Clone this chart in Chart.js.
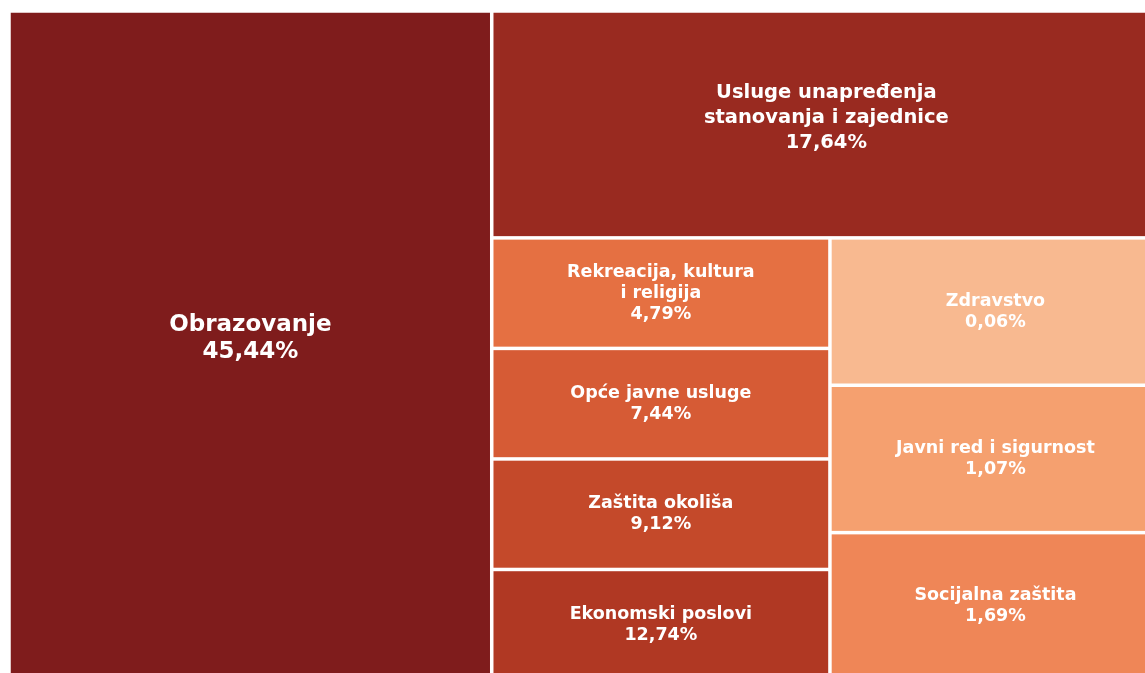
<!DOCTYPE html>
<html>
<head>
<meta charset="utf-8">
<title>Treemap</title>
<script src="https://cdn.jsdelivr.net/npm/chart.js@4/dist/chart.umd.min.js"></script>
<style>
  html, body { margin: 0; padding: 0; background: #fff; overflow: hidden; }
  #wrap { width: 1145px; height: 673px; overflow: hidden; }
</style>
</head>
<body>
<div id="wrap"><canvas id="chart" width="1166" height="686"></canvas></div>
<script>
// Tile names (one array entry per text line)
const labels = [
  ['Obrazovanje'],
  ['Usluge unapređenja', 'stanovanja i zajednice'],
  ['Rekreacija, kultura', 'i religija'],
  ['Opće javne usluge'],
  ['Zaštita okoliša'],
  ['Ekonomski poslovi'],
  ['Zdravstvo'],
  ['Javni red i sigurnost'],
  ['Socijalna zaštita']
];

// Shares shown in the labels (%)
const shares = [45.44, 17.64, 4.79, 7.44, 9.12, 12.74, 0.06, 1.07, 1.69];

// Tile sizes (area weight)
const tileSizes = [41.9, 19.7, 4.85, 4.85, 4.85, 4.85, 6.33, 6.33, 6.33];

const tileColors = [
  '#7f1c1c', '#992a20', '#e57042', '#d65b35', '#c4492a',
  '#b03823', '#f8b990', '#f5a06f', '#ef8657'
];

// Nesting of the tiles: 'h' splits side by side, 'v' stacks top to bottom
const layoutTree = {
  dir: 'h',
  kids: [0, {
    dir: 'v',
    kids: [1, {
      dir: 'h',
      kids: [{ dir: 'v', kids: [2, 3, 4, 5] }, { dir: 'v', kids: [6, 7, 8] }]
    }]
  }]
};

function nodeSize(node) {
  if (typeof node === 'number') return tileSizes[node];
  return node.kids.reduce((s, k) => s + nodeSize(k), 0);
}

// Slice-and-dice layout in data units (0..1 on both axes)
function layout(node, x0, y0, x1, y1, out) {
  if (typeof node === 'number') {
    out[node] = { x0, y0, x1, y1 };
    return out;
  }
  const total = nodeSize(node);
  let pos = node.dir === 'h' ? x0 : y0;
  node.kids.forEach((kid) => {
    const frac = nodeSize(kid) / total;
    if (node.dir === 'h') {
      const next = pos + (x1 - x0) * frac;
      layout(kid, pos, y0, next, y1, out);
      pos = next;
    } else {
      const next = pos + (y1 - y0) * frac;
      layout(kid, x0, pos, x1, next, out);
      pos = next;
    }
  });
  return out;
}

const tiles = layout(layoutTree, 0, 0, 1, 1, []);
const totalSize = nodeSize(layoutTree);

function fmtShare(v) {
  return v.toFixed(2).replace('.', ',') + '%';
}

function labelStyle(i) {
  const frac = tileSizes[i] / totalSize;
  if (frac > 0.3) return { size: 23, line: 27, dy: -6.5 };
  if (frac > 0.15) return { size: 19.5, line: 25, dy: -6.5 };
  return { size: 17.5, line: 21, dy: 0 };
}

const treemapPlugin = {
  id: 'treemapTiles',
  beforeDatasetsDraw(chart) {
    const { ctx, scales: { x, y } } = chart;
    const gap = 1.75;
    ctx.save();
    tiles.forEach((t, i) => {
      const left = x.getPixelForValue(t.x0) + gap;
      const right = x.getPixelForValue(t.x1) - gap;
      const top = y.getPixelForValue(t.y0) + gap;
      const bottom = y.getPixelForValue(t.y1) - gap;
      ctx.fillStyle = tileColors[i];
      ctx.fillRect(left, top, right - left, bottom - top);

      const st = labelStyle(i);
      const lines = labels[i].concat([fmtShare(shares[i])]);
      const cx = (left + right) / 2;
      const cy = (top + bottom) / 2 + st.dy;
      ctx.font = `bold ${st.size}px "DejaVu Sans"`;
      ctx.fillStyle = '#ffffff';
      ctx.textAlign = 'center';
      ctx.textBaseline = 'middle';
      lines.forEach((ln, k) => {
        const ly = cy + (k - (lines.length - 1) / 2) * st.line;
        ctx.fillText(ln, cx, ly);
      });
    });
    ctx.restore();
  }
};

const centers = tiles.map((t, i) => ({
  x: (t.x0 + t.x1) / 2,
  y: (t.y0 + t.y1) / 2,
  name: labels[i].join(' '),
  share: shares[i]
}));

new Chart(document.getElementById('chart'), {
  type: 'scatter',
  data: {
    datasets: [{
      data: centers,
      pointRadius: 0,
      pointHoverRadius: 0
    }]
  },
  options: {
    responsive: false,
    animation: false,
    layout: { padding: { left: 9, top: 11, right: 5, bottom: 6 } },
    scales: {
      x: { type: 'linear', min: 0, max: 1, display: false },
      y: { type: 'linear', min: 0, max: 1, reverse: true, display: false }
    },
    plugins: {
      legend: { display: false },
      tooltip: {
        callbacks: {
          label: (c) => `${c.raw.name}: ${fmtShare(c.raw.share)}`
        }
      }
    }
  },
  plugins: [treemapPlugin]
});
</script>
</body>
</html>
